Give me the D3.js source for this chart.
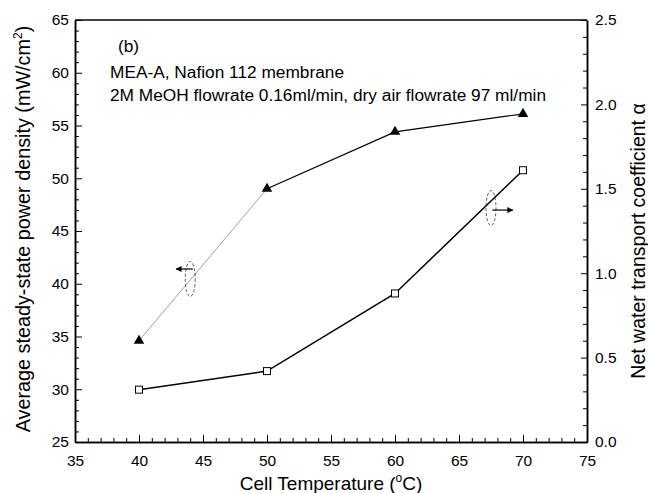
<!DOCTYPE html>
<html>
<head>
<meta charset="utf-8">
<script src="https://cdn.jsdelivr.net/npm/d3@7"></script>
<style>
  html, body { margin: 0; padding: 0; background: #fff; }
  svg { display: block; font-family: "Liberation Sans", Arial, sans-serif; }
</style>
</head>
<body>
<svg id="chart" width="648" height="493"></svg>
<script>
// Cell temperature (°C)
const temperatures = [40, 50, 60, 70];
// Average steady-state power density (mW/cm2), left axis
const powerDensity = [34.6, 49.0, 54.4, 56.1];
// Net water transport coefficient α, right axis
const waterCoeff = [0.31, 0.42, 0.88, 1.61];

const xTicks = [35, 40, 45, 50, 55, 60, 65, 70, 75];
const yLeftTicks = [25, 30, 35, 40, 45, 50, 55, 60, 65];
const yRightTicks = [0.0, 0.5, 1.0, 1.5, 2.0, 2.5];

const W = 648, H = 493;
const margin = { left: 75, right: 61, top: 20, bottom: 51 };
const pw = W - margin.left - margin.right;
const ph = H - margin.top - margin.bottom;

const svg = d3.select("#chart");
const g = svg.append("g").attr("transform", `translate(${margin.left},${margin.top})`);

const x = d3.scaleLinear().domain([35, 75]).range([0, pw]);
const yL = d3.scaleLinear().domain([25, 65]).range([ph, 0]);
const yR = d3.scaleLinear().domain([0, 2.5]).range([ph, 0]);

// minor ticks
const xMinor = d3.range(35, 75.01, 1).filter(v => v % 5 !== 0);
const yLMinor = d3.range(25, 65.01, 1).filter(v => v % 5 !== 0);
const yRMinor = d3.range(0, 2.501, 0.1).map(v => +v.toFixed(1)).filter(v => Math.abs(v * 2 - Math.round(v * 2)) > 1e-6);

const tickFont = "15.5px";

// bottom axis
const xAxis = g.append("g").attr("transform", `translate(0,${ph})`)
  .call(d3.axisBottom(x).tickValues(xTicks).tickSizeInner(-7).tickSizeOuter(0).tickPadding(13).tickFormat(d3.format("d")));
xAxis.append("g").call(d3.axisBottom(x).tickValues(xMinor).tickSizeInner(-4).tickSizeOuter(0).tickFormat(""));

// left axis
const yAxisL = g.append("g")
  .call(d3.axisLeft(yL).tickValues(yLeftTicks).tickSizeInner(-7).tickSizeOuter(0).tickPadding(6).tickFormat(d3.format("d")));
yAxisL.append("g").call(d3.axisLeft(yL).tickValues(yLMinor).tickSizeInner(-4).tickSizeOuter(0).tickFormat(""));

// right axis
const yAxisR = g.append("g").attr("transform", `translate(${pw},0)`)
  .call(d3.axisRight(yR).tickValues(yRightTicks).tickSizeInner(-6).tickSizeOuter(0).tickPadding(8).tickFormat(d3.format(".1f")));
yAxisR.append("g").call(d3.axisRight(yR).tickValues(yRMinor).tickSizeInner(-4).tickSizeOuter(0).tickFormat(""));

// top frame line
g.append("line").attr("x1", 0).attr("x2", pw).attr("y1", 0).attr("y2", 0)
  .attr("stroke", "#000").attr("stroke-width", 1.5);

g.selectAll(".domain").attr("stroke", "#000").attr("stroke-width", 1.5);
g.selectAll(".tick line").attr("stroke", "#000").attr("stroke-width", 1);
g.selectAll(".tick text").attr("font-size", tickFont).attr("fill", "#000")
  .attr("font-family", "'Liberation Sans', Arial, sans-serif");

// data series
const pts = temperatures.map((t, i) => ({ t, p: powerDensity[i], a: waterCoeff[i] }));

// α series: solid line with open squares
g.append("path").datum(pts)
  .attr("fill", "none").attr("stroke", "#000").attr("stroke-width", 1.5)
  .attr("d", d3.line().x(d => x(d.t)).y(d => yR(d.a)));

// power density series: first segment thin grey, remainder solid black
g.append("path").datum(pts.slice(0, 2))
  .attr("fill", "none").attr("stroke", "#888").attr("stroke-width", 0.8)
  .attr("d", d3.line().x(d => x(d.t)).y(d => yL(d.p)));
g.append("path").datum(pts.slice(1))
  .attr("fill", "none").attr("stroke", "#000").attr("stroke-width", 1.2)
  .attr("d", d3.line().x(d => x(d.t)).y(d => yL(d.p)));

const sq = 7;
g.selectAll("rect.sq").data(pts).enter().append("rect")
  .attr("x", d => x(d.t) - sq / 2).attr("y", d => yR(d.a) - sq / 2)
  .attr("width", sq).attr("height", sq)
  .attr("fill", "#fff").attr("stroke", "#000").attr("stroke-width", 1);

const tri = d3.symbol().type(d3.symbolTriangle).size(48);
g.selectAll("path.tri").data(pts).enter().append("path")
  .attr("transform", d => `translate(${x(d.t)},${yL(d.p)})`)
  .attr("d", tri).attr("fill", "#000");

// axis-pointer annotations: dashed ellipse plus arrow
const defs = svg.append("defs");
defs.append("marker").attr("id", "arrow").attr("viewBox", "0 0 10 10")
  .attr("refX", 9).attr("refY", 5).attr("markerWidth", 6).attr("markerHeight", 5)
  .attr("orient", "auto-start-reverse")
  .append("path").attr("d", "M0,0 L10,5 L0,10 z").attr("fill", "#000");

function pointer(cx, cy, ay, x0, x1) {
  g.append("ellipse").attr("cx", cx).attr("cy", cy).attr("rx", 5).attr("ry", 17.5)
    .attr("fill", "none").attr("stroke", "#333").attr("stroke-width", 0.8)
    .attr("stroke-dasharray", "3,2");
  g.append("line").attr("x1", x0).attr("y1", ay).attr("x2", x1).attr("y2", ay)
    .attr("stroke", "#000").attr("stroke-width", 1.2).attr("marker-end", "url(#arrow)");
}
// left pointer -> left axis
pointer(x(44), yL(40.45), yL(41.4), x(44.2), x(42.9));
// right pointer -> right axis
pointer(x(67.5), yR(1.386), yR(1.374), x(67.6), x(69.2));

// annotation text
const ann = svg.append("g").attr("font-size", "17.3px").attr("fill", "#000");
ann.append("text").attr("x", 118).attr("y", 52).text("(b)");
ann.append("text").attr("x", 110).attr("y", 78).text("MEA-A, Nafion 112 membrane");
ann.append("text").attr("x", 110).attr("y", 101).text("2M MeOH flowrate 0.16ml/min, dry air flowrate 97 ml/min");

// axis titles
const xt = svg.append("text").attr("x", margin.left + pw / 2).attr("y", 490)
  .attr("text-anchor", "middle").attr("font-size", "19px");
xt.append("tspan").text("Cell Temperature (");
xt.append("tspan").attr("font-size", "12px").attr("dy", -8).text("o");
xt.append("tspan").attr("dy", 8).text("C)");

const ylt = svg.append("text")
  .attr("transform", `translate(30,${margin.top + ph / 2 - 2}) rotate(-90)`)
  .attr("text-anchor", "middle").attr("font-size", "19.8px");
ylt.append("tspan").text("Average steady-state power density (mW/cm");
ylt.append("tspan").attr("font-size", "12px").attr("dy", -8).text("2");
ylt.append("tspan").attr("dy", 8).text(")");

svg.append("text")
  .attr("transform", `translate(645,${margin.top + ph / 2 + 10}) rotate(-90)`)
  .attr("text-anchor", "middle").attr("font-size", "19.5px")
  .text("Net water transport coefficient α");
</script>
</body>
</html>
